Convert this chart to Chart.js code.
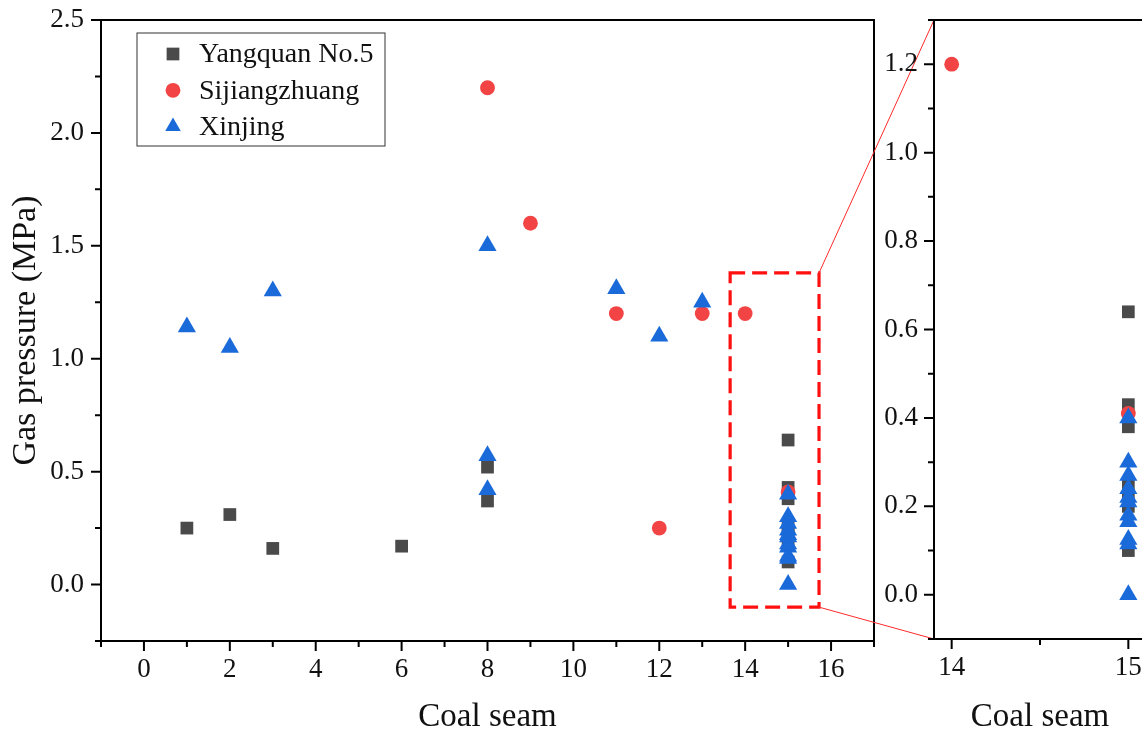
<!DOCTYPE html>
<html>
<head>
<meta charset="utf-8">
<script src="https://cdn.jsdelivr.net/npm/chart.js@4.4.0/dist/chart.umd.min.js"></script>
<style>
  html, body { margin: 0; padding: 0; background: #fff; overflow: hidden; }
  #wrap { position: relative; width: 1142px; height: 737px; overflow: hidden; }
  #main { position: absolute; left: 0; top: 0; }
  #inset { position: absolute; left: 878px; top: 0; }
</style>
</head>
<body>
<div id="wrap">
  <canvas id="main" width="1142" height="737"></canvas>
  <canvas id="inset" width="272" height="737"></canvas>
</div>
<script>
// data
const yangquanSeam = [1, 2, 3, 6, 8, 8, 15, 15, 15, 15, 15, 15, 15];
const yangquanPressure = [0.25, 0.31, 0.16, 0.17, 0.52, 0.37, 0.64, 0.43, 0.38, 0.25, 0.22, 0.20, 0.10];

const sijiangSeam = [8, 9, 11, 12, 13, 14, 15];
const sijiangPressure = [2.2, 1.6, 1.2, 0.25, 1.2, 1.2, 0.41];

const xinjingSeam = [1, 2, 3, 8, 8, 8, 11, 12, 13, 15, 15, 15, 15, 15, 15, 15, 15, 15, 15, 15];
const xinjingPressure = [1.14, 1.05, 1.30, 1.50, 0.57, 0.42, 1.31, 1.10, 1.25,
  0.40, 0.30, 0.27, 0.24, 0.22, 0.21, 0.18, 0.165, 0.125, 0.115, 0.0];

const seriesNames = ['Yangquan No.5', 'Sijiangzhuang', 'Xinjing'];

// axis ticks
const seamTicks = [0, 2, 4, 6, 8, 10, 12, 14, 16];
const seamMinor = [-1, 1, 3, 5, 7, 9, 11, 13, 15, 17];
const pressureTicks = [0, 0.5, 1.0, 1.5, 2.0, 2.5];
const pressureMinor = [-0.25, 0.25, 0.75, 1.25, 1.75, 2.25];
const insetSeamTicks = [14, 15];
const insetSeamMinor = [14.5];
const insetPressureTicks = [0, 0.2, 0.4, 0.6, 0.8, 1.0, 1.2];
const insetPressureMinor = [-0.1, 0.1, 0.3, 0.5, 0.7, 0.9, 1.1, 1.3];

// the dashed zoom window on the main plot (data units)
const zoomSeam = [13.65, 15.72];
const zoomPressure = [-0.1, 1.38];

const FONT = "'Liberation Serif', 'Times New Roman', serif";
const colors = ['#4a4a4a', '#f24444', '#1a6ad9'];
const styles = ['rect', 'circle', 'triangle'];
const radii = [9, 7.4, 10.5];

function pts(xs, ys) {
  return xs.map((x, i) => ({ x: x, y: ys[i] }));
}

function makeDatasets() {
  const xs = [yangquanSeam, sijiangSeam, xinjingSeam];
  const ys = [yangquanPressure, sijiangPressure, xinjingPressure];
  return seriesNames.map((name, i) => ({
    label: name,
    data: pts(xs[i], ys[i]),
    pointStyle: styles[i],
    pointRadius: radii[i],
    pointHoverRadius: radii[i],
    backgroundColor: colors[i],
    borderColor: colors[i],
    borderWidth: 0,
    order: 3 - i
  }));
}

function drawTicks(chart, id, values, len) {
  const s = chart.scales[id];
  const ctx = chart.ctx;
  const ca = chart.chartArea;
  ctx.beginPath();
  values.forEach(v => {
    const p = s.getPixelForValue(v);
    if (s.isHorizontal()) {
      ctx.moveTo(p, ca.bottom);
      ctx.lineTo(p, ca.bottom + len);
    } else {
      ctx.moveTo(ca.left, p);
      ctx.lineTo(ca.left - len, p);
    }
  });
  ctx.stroke();
}

function axisOpts(min, max, ticks, width, height, labelPad, digits) {
  return {
    type: 'linear',
    min: min,
    max: max,
    grid: { display: false, drawTicks: false },
    border: { display: false },
    afterBuildTicks: s => { s.ticks = ticks.map(v => ({ value: v })); },
    afterFit: s => {
      if (width) s.width = width;
      if (height) s.height = height;
      s.paddingTop = 0; s.paddingBottom = 0;
      s.paddingLeft = 0; s.paddingRight = 0;
    },
    ticks: {
      padding: labelPad,
      color: '#111',
      font: { family: FONT, size: 27 },
      callback: v => (digits === 0 ? String(v) : Number(v).toFixed(digits))
    }
  };
}

// ---------- inset ----------
const insetFrame = {
  id: 'insetFrame',
  afterDraw(chart) {
    const ctx = chart.ctx;
    const ca = chart.chartArea;
    ctx.save();
    ctx.strokeStyle = '#000';
    ctx.lineWidth = 2;
    ctx.strokeRect(ca.left, ca.top, ca.right - ca.left, ca.bottom - ca.top);
    drawTicks(chart, 'x', insetSeamTicks, 10);
    drawTicks(chart, 'x', insetSeamMinor, 6);
    drawTicks(chart, 'y', insetPressureTicks, 10);
    drawTicks(chart, 'y', insetPressureMinor, 6);
    ctx.restore();
  }
};

const insetX = axisOpts(13.9, 15.1, insetSeamTicks, 0, 98, 13, 0);
insetX.title = { display: true, text: 'Coal seam', color: '#111', font: { family: FONT, size: 33 }, padding: { top: 0, bottom: 0 } };
const insetY = axisOpts(-0.1, 1.3, insetPressureTicks, 56, 0, 16, 1);

const insetChart = new Chart(document.getElementById('inset'), {
  type: 'scatter',
  data: { datasets: makeDatasets() },
  options: {
    responsive: false,
    animation: false,
    layout: { autoPadding: false, padding: { top: 20, right: 4, left: 0, bottom: 0 } },
    plugins: { legend: { display: false }, tooltip: { enabled: false } },
    scales: { x: insetX, y: insetY }
  },
  plugins: [insetFrame]
});

// ---------- main ----------
const insetLeft = 878;

const mainFrame = {
  id: 'mainFrame',
  afterDraw(chart) {
    const ctx = chart.ctx;
    const ca = chart.chartArea;
    const sx = chart.scales.x, sy = chart.scales.y;
    ctx.save();
    ctx.strokeStyle = '#000';
    ctx.lineWidth = 2;
    ctx.strokeRect(ca.left, ca.top, ca.right - ca.left, ca.bottom - ca.top);
    drawTicks(chart, 'x', seamTicks, 10);
    drawTicks(chart, 'x', seamMinor, 6);
    drawTicks(chart, 'y', pressureTicks, 10);
    drawTicks(chart, 'y', pressureMinor, 6);

    // dashed zoom window
    const x0 = sx.getPixelForValue(zoomSeam[0]), x1 = sx.getPixelForValue(zoomSeam[1]);
    const y0 = sy.getPixelForValue(zoomPressure[1]), y1 = sy.getPixelForValue(zoomPressure[0]);
    ctx.strokeStyle = '#ff1010';
    ctx.lineWidth = 3.2;
    ctx.setLineDash([15, 7]);
    ctx.strokeRect(x0, y0, x1 - x0, y1 - y0);
    ctx.setLineDash([]);

    // connectors to the inset
    const ia = insetChart.chartArea;
    ctx.lineWidth = 1;
    ctx.strokeStyle = '#ff2a2a';
    ctx.beginPath();
    ctx.moveTo(x1, y0);
    ctx.lineTo(insetLeft + ia.left, ia.top);
    ctx.moveTo(x1, y1);
    ctx.lineTo(insetLeft + ia.left, ia.bottom);
    ctx.stroke();

    // legend box
    const bx = ca.left + 36, by = ca.top + 13, bw = 248, bh = 113;
    ctx.lineWidth = 1;
    ctx.strokeStyle = '#333';
    ctx.strokeRect(bx, by, bw, bh);
    ctx.font = '28px ' + FONT;
    ctx.textBaseline = 'middle';
    ctx.textAlign = 'left';
    chart.data.datasets.forEach((ds, i) => {
      const cy = by + 21 + i * 36.3;
      ctx.fillStyle = ds.backgroundColor;
      Chart.helpers.drawPoint(ctx, {
        pointStyle: ds.pointStyle,
        radius: i === 2 ? 9 : ds.pointRadius,
        rotation: 0,
        borderWidth: 0
      }, bx + 36, cy);
      ctx.fillStyle = '#111';
      ctx.fillText(ds.label, bx + 62, cy + 1);
    });
    ctx.restore();
  }
};

const mainX = axisOpts(-1, 17, seamTicks, 0, 96, 13, 0);
mainX.title = { display: true, text: 'Coal seam', color: '#111', font: { family: FONT, size: 33 }, padding: { top: 0, bottom: 0 } };
const mainY = axisOpts(-0.25, 2.5, pressureTicks, 101, 0, 17, 1);
mainY.title = { display: true, text: 'Gas pressure (MPa)', color: '#111', font: { family: FONT, size: 34 }, padding: { top: 6, bottom: 0 } };

const mainChart = new Chart(document.getElementById('main'), {
  type: 'scatter',
  data: { datasets: makeDatasets() },
  options: {
    responsive: false,
    animation: false,
    layout: { autoPadding: false, padding: { top: 20, right: 268, left: 0, bottom: 0 } },
    plugins: { legend: { display: false }, tooltip: { enabled: false } },
    scales: { x: mainX, y: mainY }
  },
  plugins: [mainFrame]
});
</script>
</body>
</html>
